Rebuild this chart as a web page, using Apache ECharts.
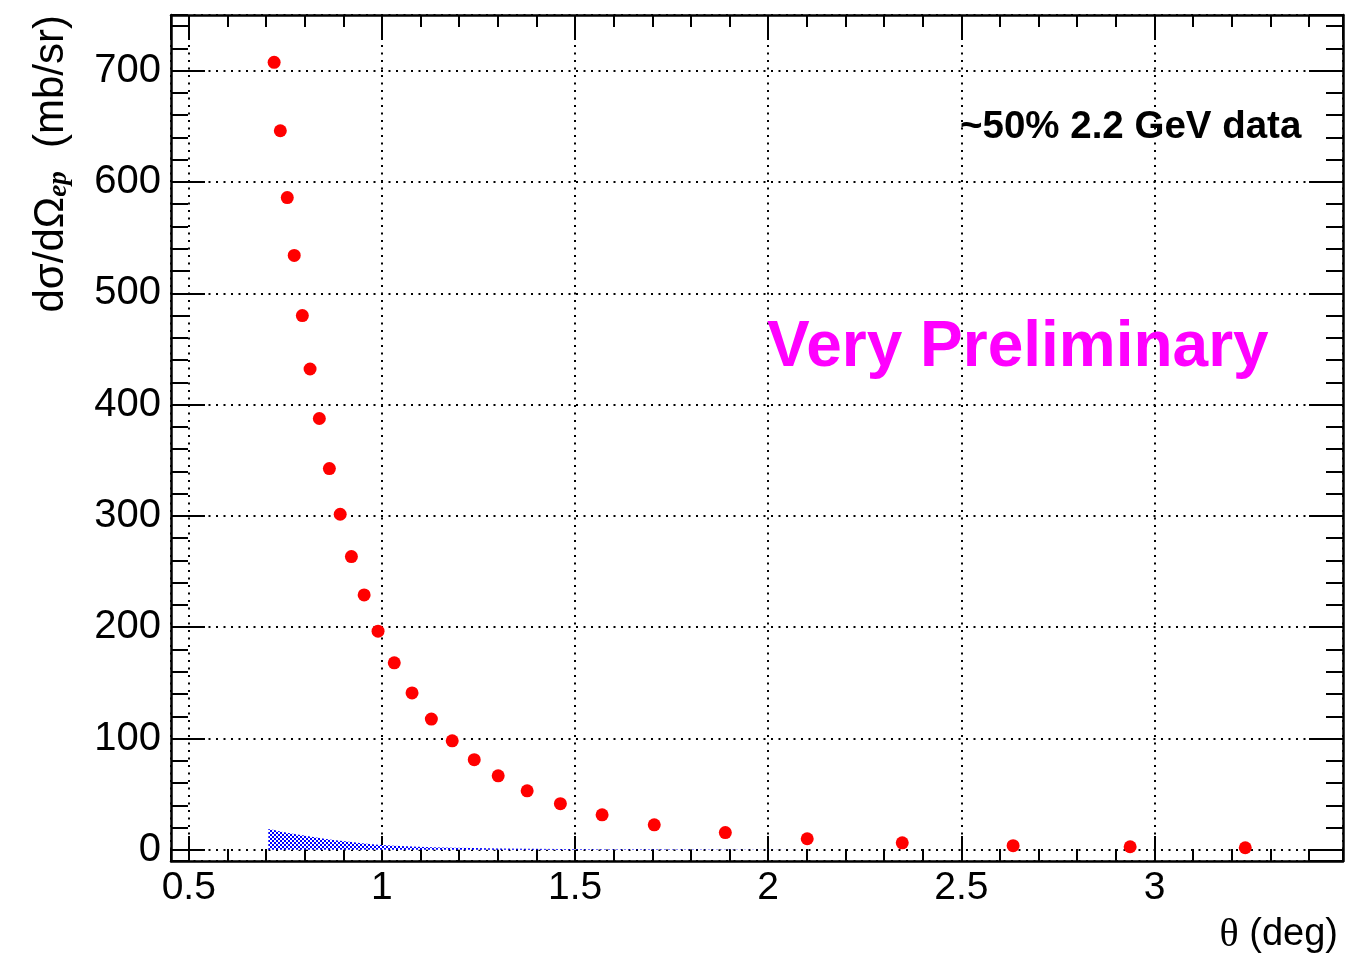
<!DOCTYPE html>
<html>
<head>
<meta charset="utf-8">
<script src="https://cdn.jsdelivr.net/npm/echarts@6/dist/echarts.min.js"></script>
<style>
html,body{margin:0;padding:0;background:#fff;}
#chart{width:1345px;height:958px;}
</style>
</head>
<body>
<div id="chart"></div>
<script>
// ---- data ----
const thetaDeg = [0.721, 0.737, 0.755, 0.773, 0.794, 0.814, 0.838, 0.864, 0.892, 0.921,
                  0.954, 0.990, 1.032, 1.078, 1.128, 1.182, 1.239, 1.301, 1.376, 1.462,
                  1.570, 1.705, 1.889, 2.101, 2.347, 2.634, 2.937, 3.235];
const xsec     = [707.5, 646.0, 586.0, 534.0, 480.0, 432.0, 387.5, 342.5, 301.5, 263.5,
                  229.0, 196.5, 168.0, 141.0, 117.5, 98.0, 81.0, 66.5, 53.0, 41.5,
                  31.5, 22.5, 15.5, 10.0, 6.3, 3.8, 2.8, 1.9];
// systematic-uncertainty band (blue hatched area)
const bandTheta = [0.706, 0.721, 0.737, 0.755, 0.773, 0.794, 0.814, 0.838, 0.864, 0.892,
                   0.921, 0.954, 0.990, 1.032, 1.078, 1.128, 1.182, 1.239, 1.301, 1.376,
                   1.462, 1.570, 1.705, 1.889, 2.101, 2.347, 2.634, 2.937, 3.235];
const bandVal   = [18.8, 17.8, 16.6, 15.4, 14.3, 13.1, 12.0, 10.7, 9.4, 8.2,
                   7.0, 5.8, 4.5, 3.7, 3.0, 2.4, 2.0, 1.6, 1.3, 1.0,
                   0.8, 0.6, 0.45, 0.3, 0.2, 0.15, 0.1, 0.08, 0.05];
const xRange = [0.454, 3.488];
const yRange = [-10, 750];
const xMajor = 0.5, xMinor = 0.1;
const yMajor = 100, yMinor = 20;
const xTitle = ['θ', '(deg)'];
const yTitle = ['dσ/dΩ', 'ep', '(mb/sr)'];
const textLabel = '~50% 2.2 GeV data';
const stampLabel = 'Very Preliminary';

// ---- checkered fill pattern ----
const pat = document.createElement('canvas');
pat.width = 4; pat.height = 4;
const pg = pat.getContext('2d');
pg.fillStyle = '#ffffff'; pg.fillRect(0, 0, 4, 4);
pg.fillStyle = '#0000ff'; pg.fillRect(0, 0, 2, 2); pg.fillRect(2, 2, 2, 2);

const FONT = '"Liberation Sans", Arial, Helvetica, sans-serif';
const SERIF = '"Liberation Serif", "Times New Roman", serif';

function xAxisDef(pos, major, main) {
  const iv = major ? xMajor : xMinor;
  return {
    type: 'value', position: pos, min: xRange[0], max: xRange[1],
    splitNumber: Math.round((xRange[1] - xRange[0]) / iv),
    minInterval: iv, maxInterval: iv,
    axisLine: { show: major, onZero: false, lineStyle: { color: '#000', width: 2.5 } },
    axisTick: { show: true, inside: true, length: major ? 25 : 12, lineStyle: { color: '#000', width: 2 } },
    axisLabel: { show: main, showMinLabel: false, showMaxLabel: false, margin: 8,
                 color: '#000', fontSize: 39, fontFamily: FONT },
    splitLine: { show: main, lineStyle: { color: '#000', width: 2, type: [2, 5.5] } }
  };
}
function yAxisDef(pos, major, main) {
  const iv = major ? yMajor : yMinor;
  return {
    type: 'value', position: pos, min: yRange[0], max: yRange[1],
    splitNumber: Math.round((yRange[1] - yRange[0]) / iv),
    minInterval: iv, maxInterval: iv,
    axisLine: { show: major, onZero: false, lineStyle: { color: '#000', width: 2.5 } },
    axisTick: { show: true, inside: true, length: major ? 34 : 17, lineStyle: { color: '#000', width: 2 } },
    axisLabel: { show: main, showMinLabel: false, showMaxLabel: false, margin: 10,
                 color: '#000', fontSize: 40, fontFamily: FONT },
    splitLine: { show: main, lineStyle: { color: '#000', width: 2, type: [2, 5.5] } }
  };
}

const chart = echarts.init(document.getElementById('chart'), null, { renderer: 'canvas' });
chart.setOption({
  animation: false,
  backgroundColor: '#fff',
  grid: { left: 171, right: 2, top: 15, bottom: 97, containLabel: false },
  xAxis: [
    xAxisDef('bottom', true, true),
    xAxisDef('bottom', false, false),
    xAxisDef('top', true, false),
    xAxisDef('top', false, false)
  ],
  yAxis: [
    yAxisDef('left', true, true),
    yAxisDef('left', false, false),
    yAxisDef('right', true, false),
    yAxisDef('right', false, false)
  ],
  series: [
    {
      type: 'line', xAxisIndex: 0, yAxisIndex: 0,
      data: bandTheta.map((t, i) => [t, bandVal[i]]),
      symbol: 'none', showSymbol: false, silent: true,
      lineStyle: { width: 0, opacity: 0 },
      areaStyle: { color: { image: pat, repeat: 'repeat' }, opacity: 1 },
      z: 2
    },
    {
      type: 'scatter', xAxisIndex: 0, yAxisIndex: 0,
      data: thetaDeg.map((t, i) => [t, xsec[i]]),
      symbol: 'circle', symbolSize: 13,
      itemStyle: { color: '#ff0000', opacity: 1 },
      z: 3
    }
  ],
  graphic: [
    {
      type: 'text', x: 1338, y: 935, z: 10,
      style: {
        text: '{t|' + xTitle[0] + '}{d| ' + xTitle[1] + '}',
        align: 'right', textAlign: 'right', verticalAlign: 'middle', textVerticalAlign: 'middle',
        rich: {
          t: { font: '40px ' + SERIF, fill: '#000' },
          d: { font: '38px ' + FONT, fill: '#000' }
        }
      }
    },
    {
      type: 'text', x: 51, y: 15, rotation: Math.PI / 2, z: 10,
      style: {
        text: '{m|' + yTitle[0] + '}{s|' + yTitle[1] + '}{m|  ' + yTitle[2] + '}',
        align: 'right', textAlign: 'right', verticalAlign: 'middle', textVerticalAlign: 'middle',
        rich: {
          m: { font: '42px ' + FONT, fill: '#000', lineHeight: 42, verticalAlign: 'top' },
          s: { font: 'italic bold 27px ' + SERIF, fill: '#000', lineHeight: 27, padding: [16, 0, 0, 0] }
        }
      }
    },
    {
      type: 'text', x: 960, y: 127, z: 10,
      style: {
        text: textLabel, fill: '#000', font: 'bold 38.5px ' + FONT,
        align: 'left', textAlign: 'left', verticalAlign: 'middle', textVerticalAlign: 'middle'
      }
    },
    {
      type: 'text', x: 767, y: 348, z: 10,
      style: {
        text: stampLabel, fill: '#ff00ff', font: 'bold 64px ' + FONT,
        align: 'left', textAlign: 'left', verticalAlign: 'middle', textVerticalAlign: 'middle'
      }
    }
  ]
});
</script>
</body>
</html>
